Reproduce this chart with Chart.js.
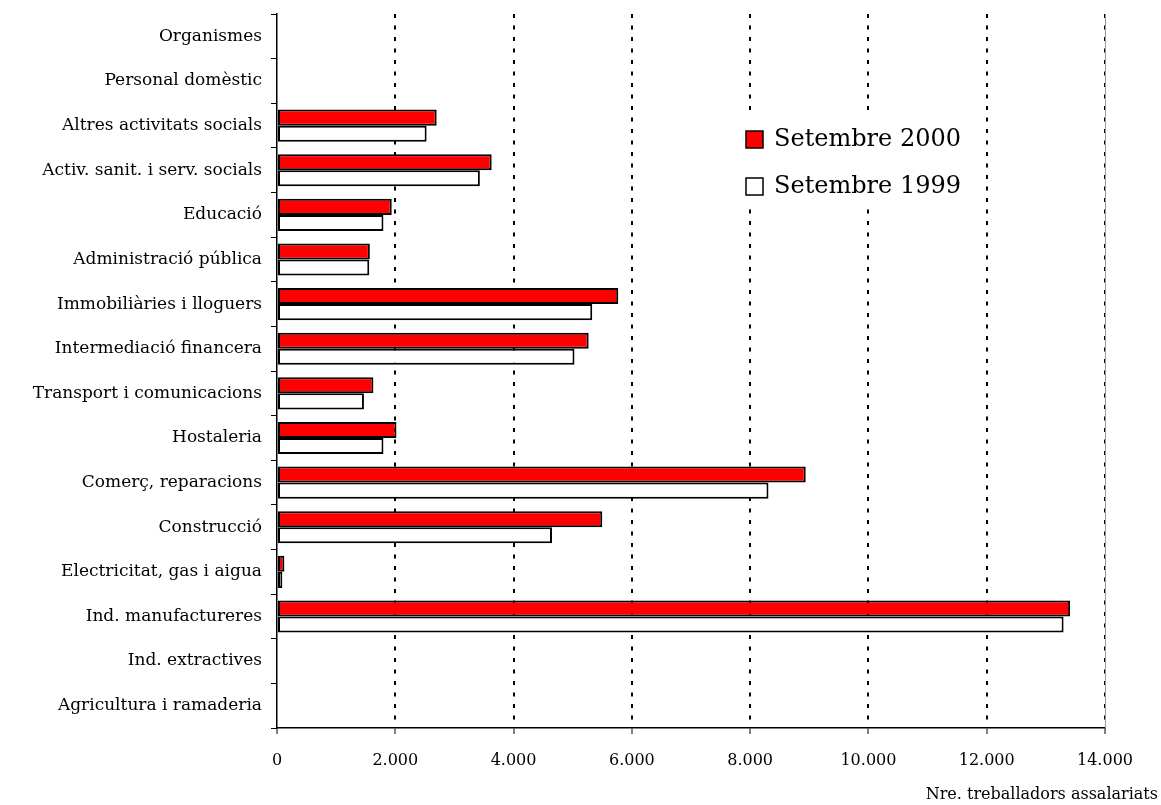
<!DOCTYPE html>
<html>
<head>
<meta charset="utf-8">
<script src="https://cdn.jsdelivr.net/npm/chart.js@4"></script>
<style>
  html, body { margin: 0; padding: 0; background: #ffffff; }
  #wrap { width: 1161px; height: 805px; position: relative; }
</style>
</head>
<body>
<div id="wrap"><canvas id="c"></canvas></div>
<script>
const categories = [
  'Organismes',
  'Personal domèstic',
  'Altres activitats socials',
  'Activ. sanit. i serv. socials',
  'Educació',
  'Administració pública',
  'Immobiliàries i lloguers',
  'Intermediació financera',
  'Transport i comunicacions',
  'Hostaleria',
  'Comerç, reparacions',
  'Construcció',
  'Electricitat, gas i aigua',
  'Ind. manufactureres',
  'Ind. extractives',
  'Agricultura i ramaderia'
];
const seriesNames = ['Setembre 2000', 'Setembre 1999'];
const values2000 = [null, null, 2700, 3630, 1940, 1570, 5770, 5270, 1630, 2020, 8940, 5500, 125, 13410, null, null];
const values1999 = [null, null, 2530, 3430, 1800, 1560, 5330, 5030, 1470, 1800, 8310, 4650, 90, 13300, null, null];
const xTickValues = [0, 2000, 4000, 6000, 8000, 10000, 12000, 14000];
const xTickLabels = ['0', '2.000', '4.000', '6.000', '8.000', '10.000', '12.000', '14.000'];
const axisTitle = 'Nre. treballadors assalariats';

const FONT = 'DejaVu Serif';

const legendInside = {
  id: 'legendInside',
  beforeDatasetsDraw(chart) {
    const ctx = chart.ctx;
    ctx.save();
    ctx.fillStyle = '#ffffff';
    ctx.fillRect(738, 112, 244, 96);
    ctx.restore();
  },
  afterDraw(chart) {
    const ctx = chart.ctx;
    const x0 = 746, ys = [139, 186];
    ctx.save();
    chart.data.datasets.forEach((ds, i) => {
      const y = ys[i];
      ctx.fillStyle = ds.backgroundColor;
      ctx.fillRect(x0, y - 8, 17, 17);
      ctx.lineWidth = 1.5;
      ctx.strokeStyle = '#000';
      ctx.strokeRect(x0, y - 8, 17, 17);
      ctx.fillStyle = '#000';
      ctx.font = '24px "' + FONT + '"';
      ctx.textBaseline = 'middle';
      ctx.textAlign = 'left';
      ctx.fillText(ds.label, x0 + 28, y + 1);
    });
    ctx.restore();
  }
};

const bottomTitle = {
  id: 'bottomTitle',
  afterDraw(chart) {
    const ctx = chart.ctx;
    ctx.save();
    ctx.fillStyle = '#000';
    ctx.font = '16px "' + FONT + '"';
    ctx.textAlign = 'right';
    ctx.textBaseline = 'middle';
    ctx.fillText(axisTitle, 1158, 795);
    ctx.restore();
  }
};

const rightBorder = {
  id: 'rightBorder',
  beforeDatasetsDraw(chart) {
    const a = chart.chartArea, ctx = chart.ctx;
    ctx.save();
    ctx.strokeStyle = '#9a9a9a';
    ctx.lineWidth = 1;
    ctx.beginPath();
    ctx.moveTo(a.right + 0.5, a.top);
    ctx.lineTo(a.right + 0.5, a.bottom);
    ctx.stroke();
    ctx.restore();
  }
};

new Chart(document.getElementById('c'), {
  type: 'bar',
  data: {
    labels: categories,
    datasets: [
      {
        label: seriesNames[0],
        data: values2000,
        backgroundColor: '#ff0000',
        borderColor: '#000000',
        borderWidth: 2,
        borderSkipped: false,
        categoryPercentage: 0.72,
        barPercentage: 1.0
      },
      {
        label: seriesNames[1],
        data: values1999,
        backgroundColor: '#ffffff',
        borderColor: '#000000',
        borderWidth: 2,
        borderSkipped: false,
        categoryPercentage: 0.72,
        barPercentage: 1.0
      }
    ]
  },
  options: {
    indexAxis: 'y',
    responsive: true,
    maintainAspectRatio: false,
    animation: false,
    layout: { padding: { left: 0, right: 56, top: 11, bottom: 0 } },
    plugins: {
      legend: { display: false },
      tooltip: { enabled: false },
      title: { display: false }
    },
    scales: {
      x: {
        type: 'linear',
        min: 0,
        max: 14000,
        afterBuildTicks(scale) {
          scale.ticks = xTickValues.map(v => ({ value: v }));
        },
        afterFit(scale) { scale.height = 77; },
        ticks: {
          color: '#000',
          padding: 17,
          font: { family: FONT, size: 16 },
          maxRotation: 0,
          callback(value) {
            const i = xTickValues.indexOf(value);
            return i >= 0 ? xTickLabels[i] : '';
          }
        },
        grid: {
          drawOnChartArea: true,
          color: (ctx) => (ctx.tick && ctx.tick.value === 0) ? 'rgba(0,0,0,0)' : '#000',
          lineWidth: 2,
          tickColor: '#000',
          tickLength: 6,
          tickWidth: 1,
          tickBorderDash: []
        },
        border: { display: true, color: '#000', width: 1.5, dash: [4, 7.5] }
      },
      y: {
        type: 'category',
        afterFit(scale) { scale.width = 277; },
        ticks: {
          color: '#000',
          padding: 9,
          font: { family: FONT, size: 17, lineHeight: 0.6 },
          autoSkip: false
        },
        grid: {
          offset: true,
          drawOnChartArea: false,
          tickColor: '#000',
          tickLength: 6,
          tickWidth: 1
        },
        border: { display: true, color: '#000', width: 1.5 }
      }
    }
  },
  plugins: [legendInside, bottomTitle, rightBorder]
});
</script>
</body>
</html>
